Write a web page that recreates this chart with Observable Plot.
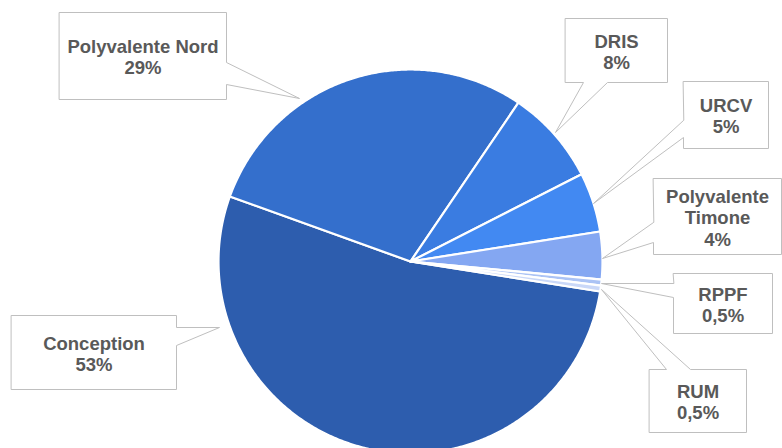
<!DOCTYPE html>
<html>
<head>
<meta charset="utf-8">
<script src="https://cdn.jsdelivr.net/npm/d3@7"></script>
<script src="https://cdn.jsdelivr.net/npm/@observablehq/plot@0.6"></script>
<style>
  html, body { margin: 0; padding: 0; background: #fff; }
  #chart svg { display: block; }
</style>
</head>
<body>
<div id="chart"></div>
<script>
// ---- Data ----
const categories = ["Conception", "Polyvalente Nord", "DRIS", "URCV", "Polyvalente Timone", "RPPF", "RUM"];
const values = [53, 29, 8, 5, 4, 0.5, 0.5];
const valueLabels = ["53%", "29%", "8%", "5%", "4%", "0,5%", "0,5%"];
const labelLines = [["Conception"], ["Polyvalente Nord"], ["DRIS"], ["URCV"], ["Polyvalente", "Timone"], ["RPPF"], ["RUM"]];
const colors = ["#2d5dae", "#346fcc", "#3a7ce1", "#4289f2", "#84a7f2", "#abc3f5", "#cad8f8"];

// ---- Layout (pixel space) ----
const W = 782, H = 448;
const cx = 410, cy = 261, R = 192;
const startDeg = 99;
// callout boxes: [x0, y0, x1, y1], pointer side, pointer base [a, b], tip [x, y]
const callouts = [
  {box: [11, 315, 176, 389], side: "right", base: [327, 345], tip: [219, 327]},
  {box: [59, 12, 226, 99], side: "right", base: [62, 84], tip: [299, 98]},
  {box: [565, 18, 667, 82], side: "bottom", base: [583, 607], tip: [555, 132]},
  {box: [683, 81, 768, 148], side: "left", base: [120, 137], tip: [593, 203]},
  {box: [653, 178, 781, 254], side: "left", base: [222, 242], tip: [602, 258]},
  {box: [673, 273, 772, 333], side: "left", base: [283, 297], tip: [601, 283]},
  {box: [649, 369, 746, 432], side: "top", base: [666, 690], tip: [601, 289]}
];

// ---- Pie geometry via d3.pie ----
const data = categories.map((c, i) => ({name: c, value: values[i], color: colors[i]}));
const arcs = d3.pie().sort(null).value(d => d.value)
  .startAngle(startDeg * Math.PI / 180)
  .endAngle(startDeg * Math.PI / 180 + 2 * Math.PI)(data);

const slicePts = [];
arcs.forEach(a => {
  slicePts.push({name: a.data.name, x: cx, y: cy});
  const n = Math.max(2, Math.ceil((a.endAngle - a.startAngle) / (Math.PI / 360)));
  for (let k = 0; k <= n; k++) {
    const t = a.startAngle + (a.endAngle - a.startAngle) * k / n;
    slicePts.push({name: a.data.name, x: cx + R * Math.sin(t), y: cy - R * Math.cos(t)});
  }
});

// ---- Callout polygons ----
const calloutPts = [];
callouts.forEach((c, i) => {
  const [x0, y0, x1, y1] = c.box;
  const [a, b] = c.base;
  const [tx, ty] = c.tip;
  let pts;
  if (c.side === "right") pts = [[x0,y0],[x1,y0],[x1,a],[tx,ty],[x1,b],[x1,y1],[x0,y1]];
  else if (c.side === "left") pts = [[x0,y0],[x1,y0],[x1,y1],[x0,y1],[x0,b],[tx,ty],[x0,a]];
  else if (c.side === "bottom") pts = [[x0,y0],[x1,y0],[x1,y1],[b,y1],[tx,ty],[a,y1],[x0,y1]];
  else pts = [[x0,y0],[a,y0],[tx,ty],[b,y0],[x1,y0],[x1,y1],[x0,y1]];
  pts.forEach(p => calloutPts.push({id: categories[i], x: p[0], y: p[1]}));
});

const texts = categories.map((c, i) => ({
  text: [...labelLines[i], valueLabels[i]].join("\n"),
  x: (callouts[i].box[0] + callouts[i].box[2]) / 2,
  y: (callouts[i].box[1] + callouts[i].box[3]) / 2 + 1
}));

const chart = Plot.plot({
  width: W,
  height: H,
  margin: 0,
  x: {domain: [0, W], range: [0, W], axis: null},
  y: {domain: [0, H], range: [0, H], axis: null},
  color: {domain: categories, range: colors},
  style: {fontFamily: "'Liberation Sans', Arial, sans-serif", background: "#fff"},
  marks: [
    Plot.line(slicePts, {x: "x", y: "y", z: "name", fill: "name", stroke: "#fff", strokeWidth: 2.2, curve: "linear-closed", strokeLinejoin: "round"}),
    Plot.line(calloutPts, {x: "x", y: "y", z: "id", fill: "#fff", stroke: "#bfbfbf", strokeWidth: 1, curve: "linear-closed"}),
    Plot.text(texts, {x: "x", y: "y", text: "text", fontSize: 18.5, fontWeight: "bold", fill: "#595959", lineHeight: 1.15, textAnchor: "middle"})
  ]
});
document.getElementById("chart").appendChild(chart);
</script>
</body>
</html>
